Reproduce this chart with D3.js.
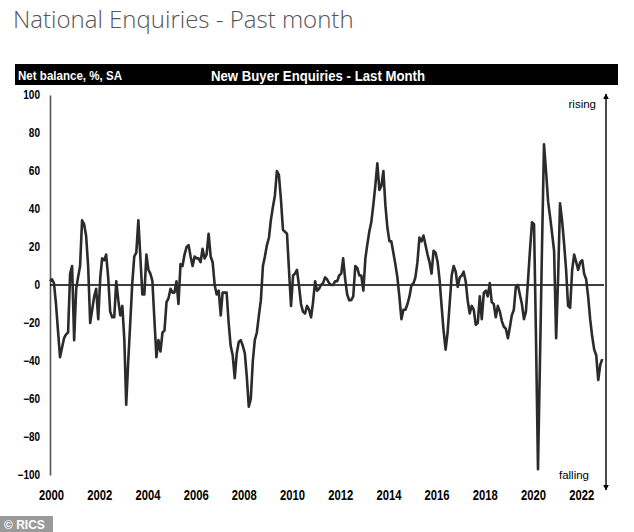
<!DOCTYPE html>
<html><head><meta charset="utf-8">
<script src="https://cdn.jsdelivr.net/npm/d3@7"></script>
<style>
html,body{margin:0;padding:0;background:#fff;}
svg{display:block;}
</style></head>
<body>
<svg id="chart" width="634" height="532"></svg>
<script>
// ---- data ----
const title = "National Enquiries - Past month";
const headerLeft = "Net balance, %, SA";
const headerCenter = "New Buyer Enquiries - Last Month";
const startYear = 2000; // monthly values from Jan 2000
const values = [
  2, 3, 1, -10, -24, -38, -33, -28, -26, -25, 6, 10,
  -29, -2, 4, 10, 34, 32, 26, 10, -20, -13, -6, -2,
  -18, 4, 14, 13, 16, 4, -14, -17, -17, 2, -8, -16,
  -11, -29, -63, -40, -20, 1, 15, 17, 34, 15, -5, -5,
  16, 8, 6, 2, -18, -38, -29, -35, -25, -24, -9, -7,
  -2, -4, -4, 2, -10, 11, 10, 16, 20, 21, 15, 10,
  15, 14, 14, 12, 19, 14, 16, 27, 15, 12, 0, -5,
  -3, -16, -4, -4, -4, -20, -32, -37, -49, -36, -30, -29,
  -32, -36, -48, -64, -60, -40, -29, -25, -16, -8, 10, 15,
  21, 25, 34, 41, 47, 60, 58, 45, 29, 28, 27, 8,
  -11, 5, 6, 8, 0, -10, -14, -15, -11, -13, -17, -9,
  2, -3, -2, 0, 1, 4, 3, 1, 0, 0, 2, 2,
  5, 6, 14, 3, -5, -8, -8, -6, 10, 9, 5, 5,
  -3, 14, 21, 28, 33, 42, 52, 64, 50, 52, 60, 42,
  30, 23, 23, 17, 11, 4, -6, -18, -13, -13, -10, -6,
  0, 1, 4, 12, 25, 23, 26, 21, 16, 12, 6, 18,
  17, 12, 3, -11, -24, -34, -25, -10, 5, 10, 7, -1,
  4, 5, 7, 2, -8, -15, -11, -13, -21, -20, -6, -18,
  -4, -3, -6, 1, -9, -10, -17, -11, -14, -19, -22, -23,
  -28, -22, -16, -13, -1, 0, -5, -10, -18, -14, 2, 18,
  33, 32, -26, -97, -40, 20, 74, 60, 44, 36, 27, 18,
  -28, 5, 43, 34, 22, 8, -11, -12, 8, 16, 12, 8,
  12, 13, 6, 3, -6, -18, -27, -34, -37, -50, -42, -39
];
const yTicks = [100, 80, 60, 40, 20, 0, -20, -40, -60, -80, -100];
const xTickYears = [2000, 2002, 2004, 2006, 2008, 2010, 2012, 2014, 2016, 2018, 2020, 2022];
const risingLabel = "rising";
const fallingLabel = "falling";
const sourceLabel = "© RICS";

// ---- drawing ----
const svg = d3.select("#chart");
const data = values.map((v, i) => ({date: new Date(startYear, i, 1), value: v}));

const x = d3.scaleTime()
  .domain([new Date(2000, 0, 1), new Date(2023, 0, 1)])
  .range([50, 604.3]);
const y = d3.scaleLinear().domain([-100, 100]).range([475, 95]);
const font = "'Liberation Sans', Arial, sans-serif";

// title
svg.append("text").attr("x", 13).attr("y", 28)
  .attr("font-family", "'Open Sans', sans-serif").attr("font-weight", 300)
  .attr("font-size", 24).attr("fill", "#555").text(title);

// header bar
svg.append("rect").attr("x", 15).attr("y", 64).attr("width", 603).attr("height", 21).attr("fill", "#000");
svg.append("text").attr("x", 18).attr("y", 79.5)
  .attr("font-family", font).attr("font-weight", "bold")
  .attr("font-size", 13).attr("fill", "#fff")
  .attr("textLength", 104).attr("lengthAdjust", "spacingAndGlyphs").text(headerLeft);
svg.append("text").attr("x", 318).attr("y", 80.5).attr("text-anchor", "middle")
  .attr("font-family", font).attr("font-weight", "bold")
  .attr("font-size", 15).attr("fill", "#fff")
  .attr("textLength", 214).attr("lengthAdjust", "spacingAndGlyphs").text(headerCenter);

// y axis
const yAxis = d3.axisLeft(y).tickValues(yTicks).tickSize(0).tickPadding(10);
const gy = svg.append("g").attr("transform", "translate(50,0)").call(yAxis);
gy.select(".domain").attr("stroke", "#555").attr("stroke-width", 1.6);
gy.selectAll("text")
  .attr("font-family", font).attr("font-weight", "bold")
  .attr("font-size", 12).attr("fill", "#000")
  .attr("textLength", d => String(d).length * 5.6)
  .attr("lengthAdjust", "spacingAndGlyphs");

// x axis labels (no axis line)
const xAxis = d3.axisBottom(x).tickValues(xTickYears.map(yr => new Date(yr, 0, 1)))
  .tickFormat(d3.timeFormat("%Y")).tickSize(0).tickPadding(0);
const gx = svg.append("g").attr("transform", "translate(1,0)").call(xAxis);
gx.select(".domain").remove();
gx.selectAll("text")
  .attr("y", 500).attr("dy", null)
  .attr("font-family", font).attr("font-weight", "bold")
  .attr("font-size", 15).attr("fill", "#000")
  .attr("textLength", 25).attr("lengthAdjust", "spacingAndGlyphs");

// zero line
svg.append("line").attr("x1", 50).attr("x2", 604).attr("y1", y(0)).attr("y2", y(0))
  .attr("stroke", "#000").attr("stroke-width", 1.6);

// series line
const line = d3.line().x(d => x(d.date)).y(d => y(d.value));
svg.append("path").datum(data).attr("d", line)
  .attr("fill", "none").attr("stroke", "#2b2b2b").attr("stroke-width", 2.6)
  .attr("stroke-linejoin", "round");

// right arrows
const defs = svg.append("defs");
defs.append("marker").attr("id", "arr").attr("viewBox", "0 0 10 10")
  .attr("refX", 9).attr("refY", 5).attr("markerWidth", 6).attr("markerHeight", 8)
  .attr("orient", "auto-start-reverse").attr("markerUnits", "userSpaceOnUse")
  .append("path").attr("d", "M0,0 L10,5 L0,10 Z").attr("fill", "#000");
svg.append("line").attr("x1", 606).attr("x2", 606).attr("y1", 94).attr("y2", 490)
  .attr("stroke", "#000").attr("stroke-width", 1.4)
  .attr("marker-start", "url(#arr)").attr("marker-end", "url(#arr)");
svg.append("text").attr("x", 596).attr("y", 108).attr("text-anchor", "end")
  .attr("font-family", font)
  .attr("font-size", 11.5).attr("fill", "#000").text(risingLabel);
svg.append("text").attr("x", 589).attr("y", 479).attr("text-anchor", "end")
  .attr("font-family", font)
  .attr("font-size", 11.5).attr("fill", "#000").text(fallingLabel);

// source badge
svg.append("rect").attr("x", 0).attr("y", 516).attr("width", 53).attr("height", 16).attr("fill", "#9a9a9a");
svg.append("text").attr("x", 4).attr("y", 528.5)
  .attr("font-family", font).attr("font-weight", "bold")
  .attr("font-size", 12).attr("fill", "#fff").text(sourceLabel);
</script>
</body></html>
